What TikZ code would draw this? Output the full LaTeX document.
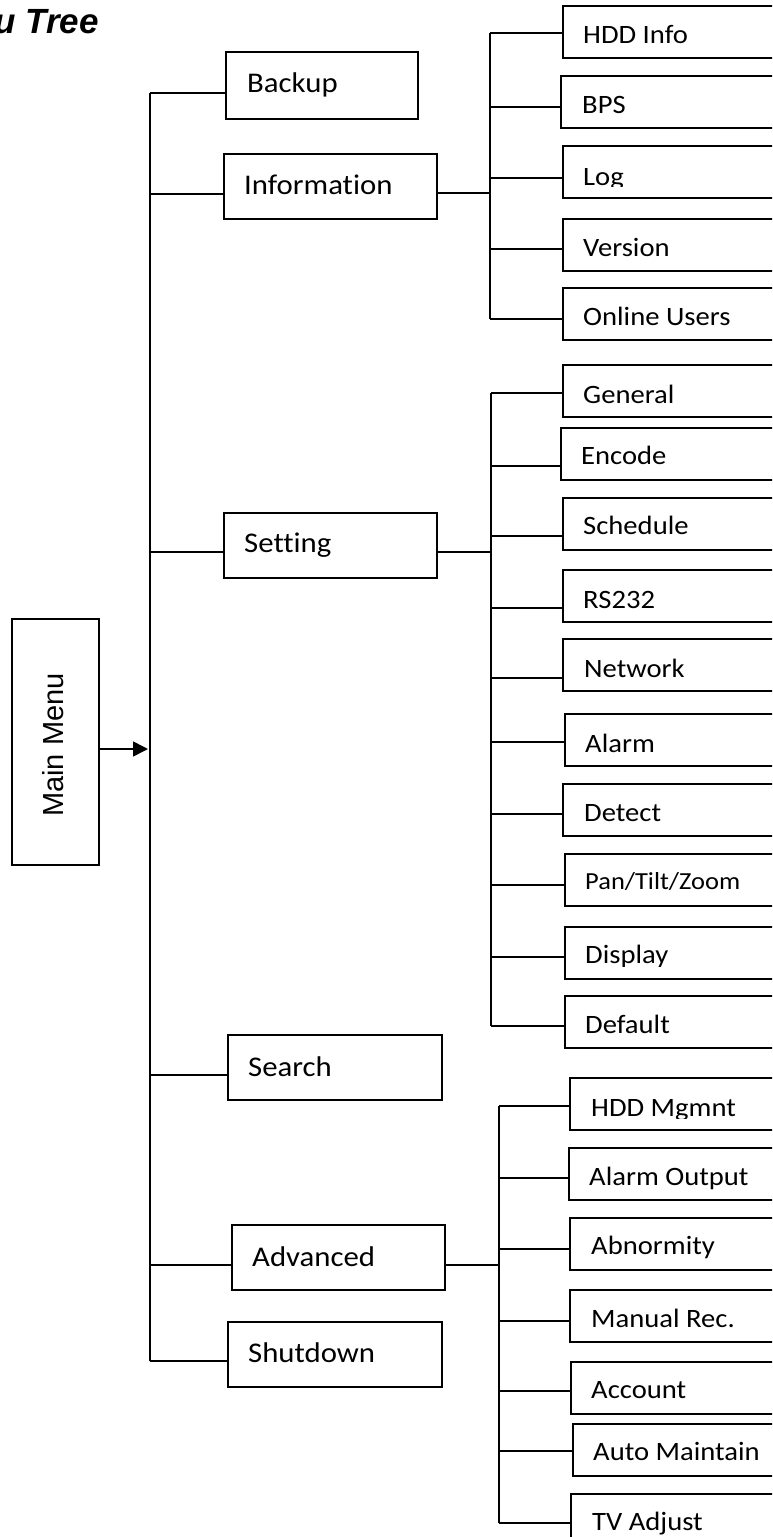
\documentclass[tikz,border=0pt]{standalone}
\usepackage{fontspec}
\setmainfont{Carlito}
\newfontfamily\boxfont[FakeStretch=1.08,Ligatures={NoCommon,NoDiscretionary,NoContextual}]{Carlito}
\newfontfamily\arialfont{Liberation Sans}
\usetikzlibrary{arrows.meta}
\tikzset{
  conn/.style={line width=1.7pt},
  boxbase/.style={draw, line width=1.7pt, rectangle, anchor=north west, inner sep=0pt},
  mainbox/.style={boxbase, minimum height=65pt},
  subbox/.style={boxbase, minimum width=260pt, minimum height=52pt},
  mtxt/.style={anchor=base west, inner sep=0pt, font=\boxfont\fontsize{28.5}{32}\selectfont},
  stxt/.style={anchor=base west, inner sep=0pt, font=\boxfont\fontsize{26.5}{30}\selectfont},
  ptxt/.style={anchor=base west, inner sep=0pt, font=\boxfont\fontsize{24.5}{28}\selectfont},
}
\begin{document}
\begin{tikzpicture}[x=1pt,y=-1pt]
\useasboundingbox (0,0) rectangle (772,1537);
\clip (0,0) rectangle (772,1537);

% title
\node[anchor=base east, inner sep=0pt, font=\arialfont\bfseries\itshape\fontsize{35}{40}\selectfont] (title) at (99,33) {u Tree};

% main menu
\node[boxbase, minimum width=87pt, minimum height=246pt] (mm) at (11,618) {};
\node[rotate=90, inner sep=0pt, font=\arialfont\fontsize{29}{34}\selectfont] (mmt) at (53,745) {Main Menu};
\coordinate (marr) at (148,749);
\draw[conn, -{Triangle[length=15pt,width=15pt]}] (mm.east |- marr) -- (marr);

% main level boxes
\node[mainbox, minimum width=192pt, minimum height=67pt] (bk) at (225,51) {};
\node[mtxt] (bkt) at (247,92) {Backup};
\node[mainbox, minimum width=213pt] (inf) at (223,153) {};
\node[mtxt] (inft) at (244,194) {Information};
\node[mainbox, minimum width=213pt] (set) at (223,512) {};
\node[mtxt] (sett) at (244,552) {Setting};
\node[mainbox, minimum width=214pt] (sea) at (227,1034) {};
\node[mtxt] (seat) at (248,1076) {Search};
\node[mainbox, minimum width=213pt] (adv) at (231,1224) {};
\node[mtxt] (advt) at (252,1266) {Advanced};
\node[mainbox, minimum width=214pt] (sd) at (227,1321) {};
\node[mtxt] (sdt) at (248,1362) {Shutdown};

% main trunk
\coordinate (m1) at (150,93);
\coordinate (m2) at (150,194);
\coordinate (m3) at (150,552);
\coordinate (m4) at (150,1075);
\coordinate (m5) at (150,1265);
\coordinate (m6) at (150,1361);
\draw[conn] (m1) -- (m6);
\draw[conn] (m1) -- (bk.west |- m1);
\draw[conn] (m2) -- (inf.west |- m2);
\draw[conn] (m3) -- (set.west |- m3);
\draw[conn] (m4) -- (sea.west |- m4);
\draw[conn] (m5) -- (adv.west |- m5);
\draw[conn] (m6) -- (sd.west |- m6);

% Information sub menu
\node[subbox] (hddi) at (562,5) {};
\node[stxt] (hddit) at (583,43) {HDD Info};
\node[subbox] (bps) at (560,75) {};
\node[stxt] (bpst) at (582,113) {BPS};
\node[subbox] (log) at (562,145) {};
\begin{scope}
\clip (562,140) rectangle (772,186);
\node[stxt] (logt) at (583,185) {Log};
\end{scope}
\node[subbox] (ver) at (562,218) {};
\node[stxt] (vert) at (583,256) {Version};
\node[subbox] (onl) at (562,287) {};
\node[stxt] (onlt) at (583,325) {Online Users};

\coordinate (ij) at (490,193);
\coordinate (i1) at (490,33);
\coordinate (i2) at (490,107);
\coordinate (i3) at (490,178);
\coordinate (i4) at (490,249);
\coordinate (i5) at (490,319);
\draw[conn] (inf.east |- ij) -- (ij);
\draw[conn] (i1) -- (i5);
\draw[conn] (i1) -- (hddi.west |- i1);
\draw[conn] (i2) -- (bps.west |- i2);
\draw[conn] (i3) -- (log.west |- i3);
\draw[conn] (i4) -- (ver.west |- i4);
\draw[conn] (i5) -- (onl.west |- i5);

% Setting sub menu
\node[subbox] (gen) at (562,364) {};
\node[stxt] (gent) at (583,403) {General};
\node[subbox] (enc) at (560,427) {};
\node[stxt] (enct) at (581,464) {Encode};
\node[subbox] (sch) at (562,497) {};
\node[stxt] (scht) at (583,534) {Schedule};
\node[subbox] (rs) at (562,569) {};
\node[stxt] (rst) at (583,608) {RS232};
\node[subbox] (net) at (562,638) {};
\node[stxt] (nett) at (584,677) {Network};
\node[subbox] (alm) at (564,713) {};
\node[stxt] (almt) at (585,752) {Alarm};
\node[subbox] (det) at (562,783) {};
\node[stxt] (dett) at (584,821) {Detect};
\node[subbox] (ptz) at (564,853) {};
\node[ptxt] (ptzt) at (585,889) {Pan/Tilt/Zoom};
\node[subbox] (dsp) at (564,926) {};
\begin{scope}
\clip (564,920) rectangle (772,966);
\node[stxt] (dspt) at (585,963) {Display};
\end{scope}
\node[subbox] (def) at (564,995) {};
\node[stxt] (deft) at (585,1033) {Default};

\coordinate (sj) at (491,552);
\coordinate (s1) at (491,393);
\coordinate (s2) at (491,466);
\coordinate (s3) at (491,536);
\coordinate (s4) at (491,608);
\coordinate (s5) at (491,678);
\coordinate (s6) at (491,742);
\coordinate (s7) at (491,814);
\coordinate (s8) at (491,885);
\coordinate (s9) at (491,957);
\coordinate (s10) at (491,1026);
\draw[conn] (set.east |- sj) -- (sj);
\draw[conn] (s1) -- (s10);
\draw[conn] (s1) -- (gen.west |- s1);
\draw[conn] (s2) -- (enc.west |- s2);
\draw[conn] (s3) -- (sch.west |- s3);
\draw[conn] (s4) -- (rs.west |- s4);
\draw[conn] (s5) -- (net.west |- s5);
\draw[conn] (s6) -- (alm.west |- s6);
\draw[conn] (s7) -- (det.west |- s7);
\draw[conn] (s8) -- (ptz.west |- s8);
\draw[conn] (s9) -- (dsp.west |- s9);
\draw[conn] (s10) -- (def.west |- s10);

% Advanced sub menu
\node[subbox] (hddm) at (569,1077) {};
\begin{scope}
\clip (569,1070) rectangle (772,1118);
\node[stxt] (hddmt) at (591,1116) {HDD Mgmnt};
\end{scope}
\node[subbox] (ao) at (568,1147) {};
\node[stxt] (aot) at (589,1185) {Alarm Output};
\node[subbox] (abn) at (569,1217) {};
\node[stxt] (abnt) at (591,1254) {Abnormity};
\node[subbox] (man) at (569,1289) {};
\node[stxt] (mant) at (591,1327) {Manual Rec.};
\node[subbox] (acc) at (570,1361) {};
\node[stxt] (acct) at (591,1398) {Account};
\node[subbox] (aut) at (572,1423) {};
\node[stxt] (autt) at (593,1460) {Auto Maintain};
\node[subbox] (tv) at (570,1493) {};
\node[stxt] (tvt) at (592,1530) {TV Adjust};

\coordinate (aj) at (499,1265);
\coordinate (a1) at (499,1106);
\coordinate (a2) at (499,1178);
\coordinate (a3) at (499,1249);
\coordinate (a4) at (499,1321);
\coordinate (a5) at (499,1391);
\coordinate (a6) at (499,1451);
\coordinate (a7) at (499,1523);
\draw[conn] (adv.east |- aj) -- (aj);
\draw[conn] (a1) -- (a7);
\draw[conn] (a1) -- (hddm.west |- a1);
\draw[conn] (a2) -- (ao.west |- a2);
\draw[conn] (a3) -- (abn.west |- a3);
\draw[conn] (a4) -- (man.west |- a4);
\draw[conn] (a5) -- (acc.west |- a5);
\draw[conn] (a6) -- (aut.west |- a6);
\draw[conn] (a7) -- (tv.west |- a7);
\end{tikzpicture}
\end{document}
